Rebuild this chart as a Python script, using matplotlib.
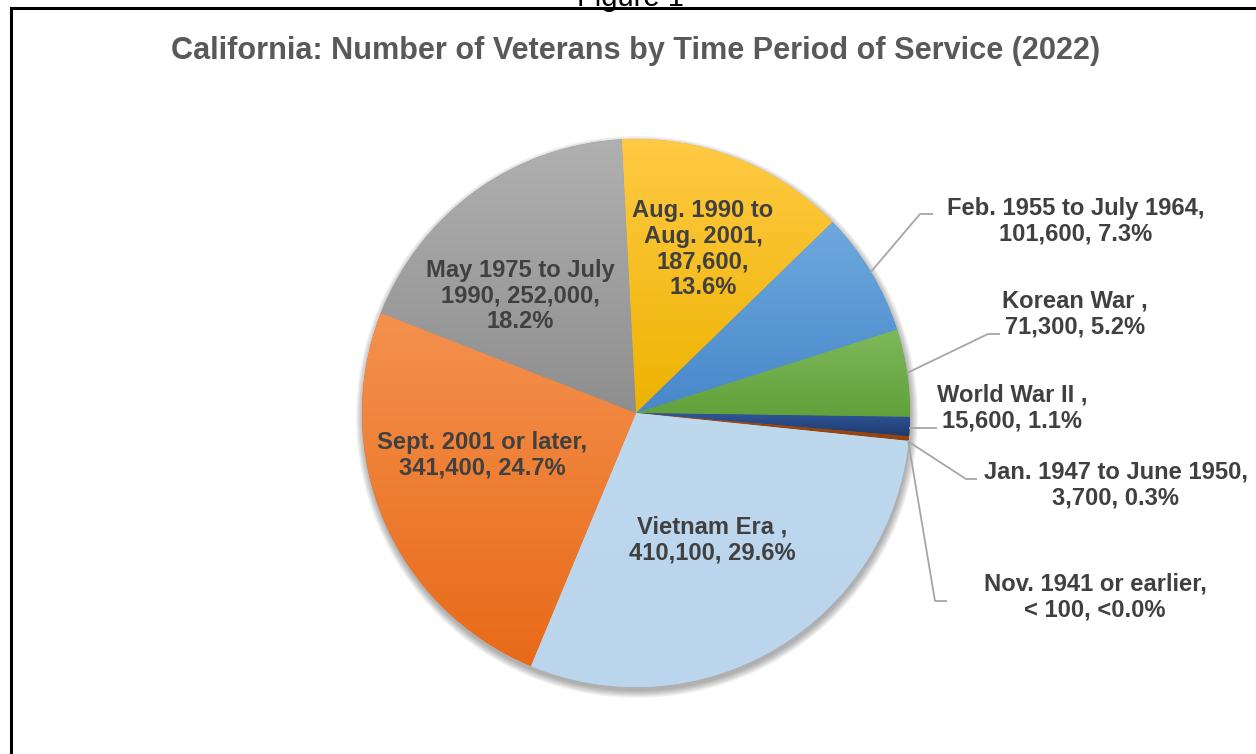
import textwrap
import numpy as np
import matplotlib
matplotlib.use("Agg")
import matplotlib.pyplot as plt
from matplotlib.patches import Circle
from matplotlib.colors import to_rgb

# ---------------- data ----------------
categories = ["Aug. 1990 to Aug. 2001", "Feb. 1955 to July 1964", "Korean War ",
              "World War II ", "Jan. 1947 to June 1950", "Nov. 1941 or earlier",
              "Vietnam Era ", "Sept. 2001 or later", "May 1975 to July 1990"]
values = [187600, 101600, 71300, 15600, 3700, 50, 410100, 341400, 252000]
value_labels = ["187,600", "101,600", "71,300", "15,600", "3,700", "< 100",
                "410,100", "341,400", "252,000"]
pct_labels = ["13.6%", "7.3%", "5.2%", "1.1%", "0.3%", "<0.0%",
              "29.6%", "24.7%", "18.2%"]
title = "California: Number of Veterans by Time Period of Service (2022)"

# ---------------- style ----------------
top_colors = ["#FFCA45", "#6EA8DE", "#7EB95B", "#30579A", "#A24A10", "#6A6A6A",
              "#BED8EE", "#F4914E", "#B0B0B0"]
bot_colors = ["#EDB300", "#4788CA", "#61A03A", "#1E3A6C", "#94420C", "#5A5A5A",
              "#BAD5EC", "#E86A18", "#8E8E8E"]
wrap_widths = [13, 23, 12, 14, 23, 21, 14, 20, 16]
# label centre positions (pixels from top-left)
label_pos = [(703, 249), (1076, 221), (1075, 314), (1012, 408), (1116, 485),
             (1095, 597), (712, 540), (482, 455), (520, 296)]
leaders = {
    1: [(870, 273), (920, 214), (933, 214)],
    2: [(907, 373), (988, 334), (1000, 334)],
    3: [(909, 428), (937, 428)],
    4: [(909, 442), (966, 479), (977, 479)],
    5: [(908, 440), (935, 601), (947, 601)],
}

W, H = 1256, 754
fig = plt.figure(figsize=(W / 100, H / 100), dpi=100)
ax = fig.add_axes([0, 0, 1, 1])

cx, cy, r = 636, H - 413, 274

# soft shadow
for k in range(8):
    ax.add_patch(Circle((cx + 1, cy - 4), r + 7 - k, facecolor="black",
                        alpha=0.045, lw=0, zorder=1))

wedges, _ = ax.pie(values, startangle=93, counterclock=False, center=(cx, cy),
                   radius=r, colors=bot_colors,
                   wedgeprops=dict(linewidth=0, zorder=2))

# gradient fills clipped to each wedge
for w, c0, c1 in zip(wedges, top_colors, bot_colors):
    ext = w.get_path().get_extents()
    t = np.linspace(0, 1, 256)[:, None, None]
    img = (1 - t) * np.array(to_rgb(c0))[None, None, :] + t * np.array(to_rgb(c1))[None, None, :]
    im = ax.imshow(img, extent=(ext.x0, ext.x1, ext.y0, ext.y1), origin="upper",
                   interpolation="bilinear", aspect="auto", zorder=3)
    im.set_clip_path(w)

ax.set_xlim(0, W)
ax.set_ylim(0, H)
ax.set_aspect("auto")
ax.axis("off")

font = dict(family=["Liberation Sans", "DejaVu Sans"], weight="bold",
            size=17.1, color="#404040")

for i, (cat, v, p) in enumerate(zip(categories, value_labels, pct_labels)):
    txt = textwrap.fill(f"{cat}, {v}, {p}", width=wrap_widths[i])
    x, y = label_pos[i]
    ax.text(x, H - y, txt, ha="center", va="center", multialignment="center",
            linespacing=1.13, zorder=5, **font)

for i, pts in leaders.items():
    xs = [p[0] for p in pts]
    ys = [H - p[1] for p in pts]
    ax.plot(xs, ys, color="#A6A6A6", lw=1.3, zorder=4, solid_capstyle="butt")

ax.text(636, H - 51, title, ha="center", va="center", zorder=5,
        family=["Liberation Sans", "DejaVu Sans"], weight="bold", size=22.1,
        color="#595959")

# page frame and cut-off caption
ax.plot([11, 11], [0, H - 8], color="black", lw=2.2, zorder=6, solid_capstyle="projecting")
ax.plot([11, W], [H - 8, H - 8], color="black", lw=2.2, zorder=6, solid_capstyle="projecting")
ax.text(630, H - 6, "Figure 1", ha="center", va="baseline", size=21,
        family=["Liberation Sans", "DejaVu Sans"], color="black", zorder=6)

fig.savefig("out.png", dpi=100)
